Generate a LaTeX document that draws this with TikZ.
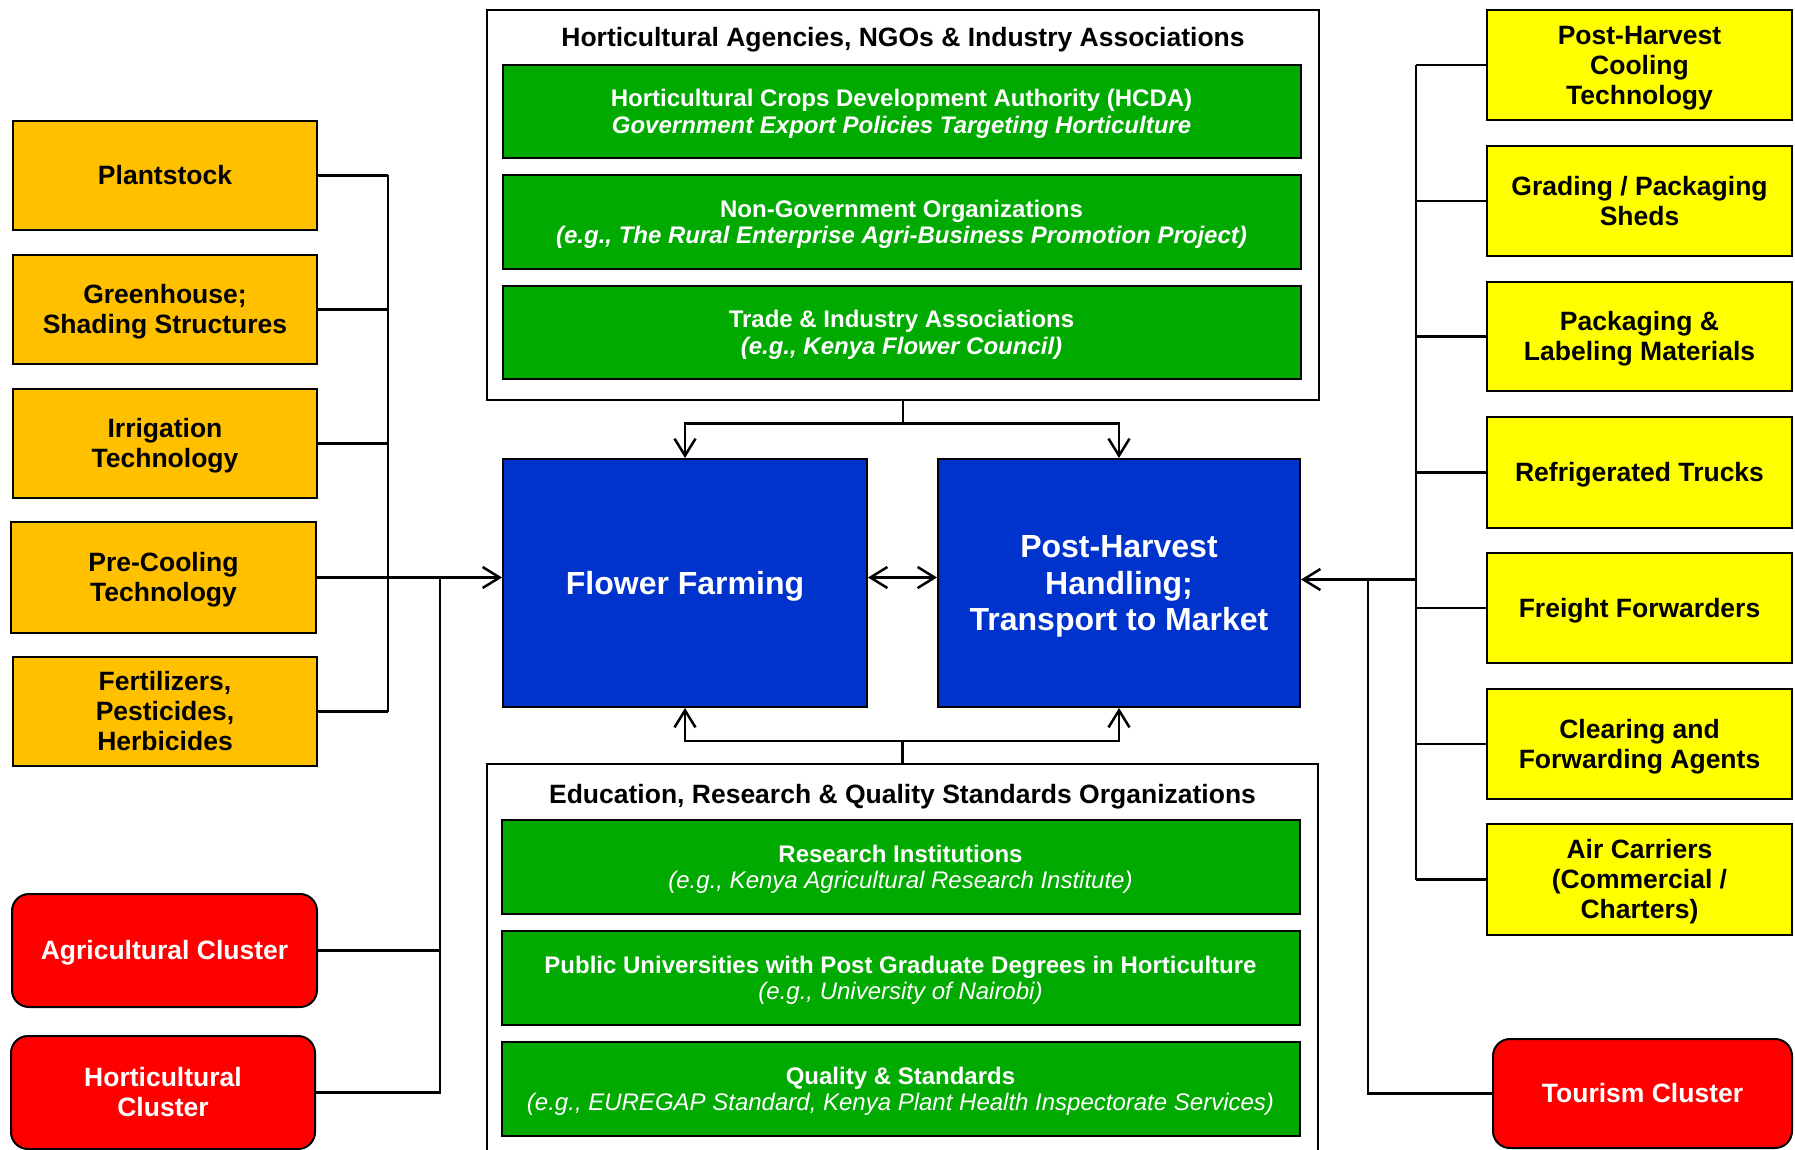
\documentclass[tikz,border=0pt]{standalone}
\usepackage{fontspec}
\setmainfont{Liberation Sans}
\usetikzlibrary{arrows.meta}
\definecolor{orng}{RGB}{255,192,0}
\definecolor{yell}{RGB}{255,255,0}
\definecolor{redc}{RGB}{255,0,0}
\definecolor{grn}{RGB}{0,170,0}
\definecolor{blu}{RGB}{0,51,204}
\tikzset{
 base/.style={draw=black, line width=2pt, align=center, inner sep=0pt, font=\fontsize{26.5}{30}\selectfont\bfseries, text height=24pt, text depth=5.6pt},
 ln2/.style={text height=54pt},
 ln3/.style={text height=84pt},
 obox/.style={base, fill=orng, minimum width=304, minimum height=109},
 ybox/.style={base, fill=yell, minimum width=305, minimum height=110},
 rbox/.style={base, fill=redc, text=white, rounded corners=17, minimum height=113},
 gbox/.style={draw=black, line width=2pt, fill=grn, text=white, align=center, inner sep=0pt, minimum width=798, minimum height=93, font=\fontsize{24}{26.5}\selectfont\bfseries, text height=49pt, text depth=5.1pt},
 bbox/.style={draw=black, line width=2pt, fill=blu, text=white, align=center, inner sep=0pt, minimum height=248, font=\fontsize{32}{36.6}\selectfont\bfseries, text height=29pt, text depth=6.8pt},
 outer/.style={draw=black, line width=2pt, inner sep=0pt},
 ttl/.style={font=\fontsize{26.5}{30}\selectfont\bfseries, inner sep=0pt},
 conn/.style={draw=black, line width=2.5pt},
 arr/.style={conn, -{Straight Barb[length=17pt,width=21pt]}},
 darr/.style={conn, {Straight Barb[length=17pt,width=21pt]}-{Straight Barb[length=17pt,width=21pt]}},
}
\begin{document}
\begin{tikzpicture}[x=1pt,y=-1pt]
\useasboundingbox (0,0) rectangle (1795,1150);
\clip (0,0) rectangle (1795,1150);
\fill[white] (0,0) rectangle (1795,1150);

% top agency box
\node[outer, minimum width=832, minimum height=390] (agency) at (903,205) {};
\node[ttl] (agtitle) at (903,39.5) {Horticultural Agencies, NGOs \& Industry Associations};
\node[gbox] (hcda) at (901.5,111.5) {Horticultural Crops Development Authority (HCDA)\\{\itshape Government Export Policies Targeting Horticulture}};
\node[gbox, minimum height=94] (ngo) at (901.5,222) {Non-Government Organizations\\{\itshape (e.g., The Rural Enterprise Agri-Business Promotion Project)}};
\node[gbox] (trade) at (901.5,332.5) {Trade \& Industry Associations\\{\itshape (e.g., Kenya Flower Council)}};

% bottom education box
\node[outer, minimum width=831, minimum height=396] (edu) at (902.5,962) {};
\node[ttl] (edtitle) at (902.5,796.5) {Education, Research \& Quality Standards Organizations};
\node[gbox, minimum height=94] (res) at (900.5,867) {Research Institutions\\{\mdseries\itshape (e.g., Kenya Agricultural Research Institute)}};
\node[gbox, minimum height=94] (uni) at (900.5,978) {Public Universities with Post Graduate Degrees in Horticulture\\{\mdseries\itshape (e.g., University of Nairobi)}};
\node[gbox, minimum height=94] (qual) at (900.5,1089) {Quality \& Standards\\{\mdseries\itshape (e.g., EUREGAP Standard, Kenya Plant Health Inspectorate Services)}};

% blue core boxes
\node[bbox, minimum width=364] (ff) at (685,583) {Flower Farming};
\node[bbox, minimum width=362, text height=102.2pt] (ph) at (1119,583) {Post-Harvest\\Handling;\\Transport to Market};

% left orange boxes
\node[obox] (plant) at (165,175.5) {Plantstock};
\node[obox, ln2] (green) at (165,309.5) {Greenhouse;\\Shading Structures};
\node[obox, ln2] (irr) at (165,443.5) {Irrigation\\Technology};
\node[obox, ln2, minimum width=305, minimum height=111] (pre) at (163.5,577.5) {Pre-Cooling\\Technology};
\node[obox, ln3] (fert) at (165,711.5) {Fertilizers,\\Pesticides,\\Herbicides};

% left red clusters
\node[rbox, minimum width=305] (agri) at (164.5,950.5) {Agricultural Cluster};
\node[rbox, ln2, minimum width=304] (horti) at (163,1092.5) {Horticultural\\Cluster};

% right yellow boxes
\node[ybox, ln3] (phc) at (1639.5,65) {Post-Harvest\\Cooling\\Technology};
\node[ybox, ln2] (grad) at (1639.5,201) {Grading / Packaging\\Sheds};
\node[ybox, ln2, minimum height=109] (pack) at (1639.5,336.5) {Packaging \&\\Labeling Materials};
\node[ybox, minimum height=111] (refr) at (1639.5,472.5) {Refrigerated Trucks};
\node[ybox] (frei) at (1639.5,608) {Freight Forwarders};
\node[ybox, ln2] (clear) at (1639.5,744) {Clearing and\\Forwarding Agents};
\node[ybox, ln3, minimum height=111] (air) at (1639.5,879.5) {Air Carriers\\(Commercial /\\Charters)};

% right red cluster
\node[rbox, minimum width=299, minimum height=109] (tour) at (1642.5,1093.5) {Tourism Cluster};

% left bracket
\coordinate (lbt) at (388,175.5);
\coordinate (lbb) at (388,711.5);
\coordinate (lbm) at (388,577.5);
\coordinate (lj) at (440,577.5);
\draw[conn] (lbt) -- (lbb);
\foreach \n in {plant,green,irr,pre,fert} \draw[conn] (\n.east) -- (\n.east -| lbt);
\draw[arr] (lbm) -- (lbm -| ff.west);
\draw[conn] (lj) |- (horti.east);
\draw[conn] (agri.east) -- (agri.east -| lj);

% right bracket
\coordinate (rbt) at (1416,65);
\coordinate (rbb) at (1416,879.5);
\coordinate (rbm) at (1416,579.5);
\coordinate (rj) at (1368,579.5);
\draw[conn] (rbt) -- (rbb);
\foreach \n in {phc,grad,pack,refr,frei,clear,air} \draw[conn] (\n.west) -- (\n.west -| rbt);
\draw[arr] (rbm) -- (rbm -| ph.east);
\draw[conn] (rj) |- (tour.west);

% between core boxes
\draw[darr] (ff.east |- lbm) -- (ph.west |- lbm);

% top connectors
\coordinate (tj) at (903,423.5);
\draw[conn] (agency.south) -- (tj);
\draw[arr] (tj) -| (ff.north);
\draw[arr] (tj) -| (ph.north);

% bottom connectors
\coordinate (bj) at (902.5,741);
\draw[conn] (edu.north) -- (bj);
\draw[arr] (bj) -| (ff.south);
\draw[arr] (bj) -| (ph.south);
\end{tikzpicture}
\end{document}
